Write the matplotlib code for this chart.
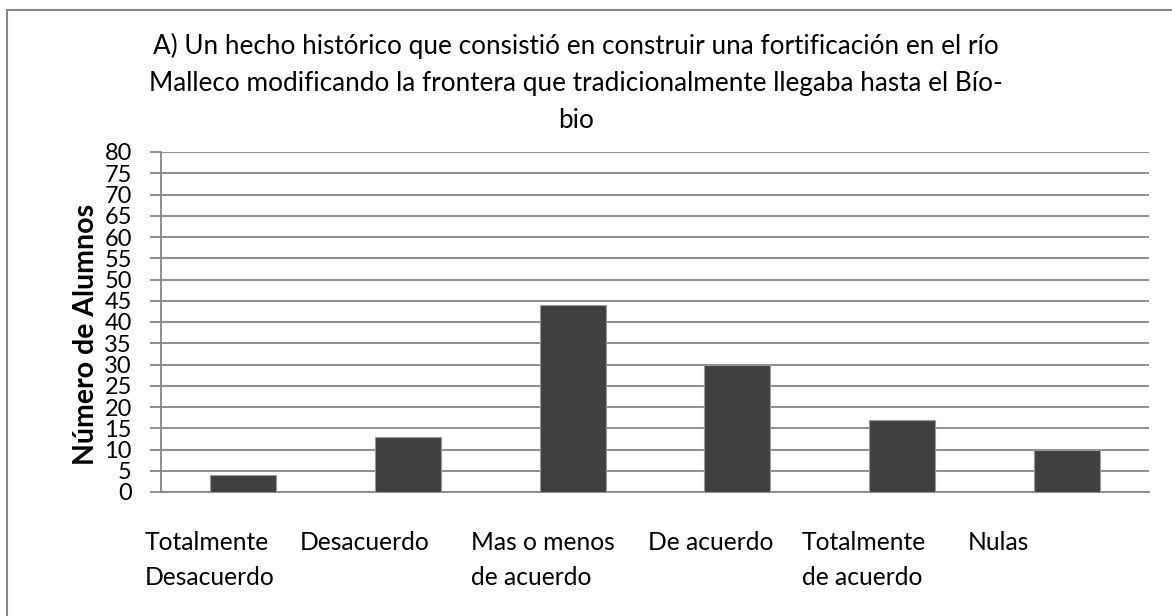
import matplotlib.pyplot as plt
import matplotlib.transforms as mtransforms
from matplotlib.patches import Rectangle

categorias = ['Totalmente\nDesacuerdo', 'Desacuerdo', 'Mas o menos\nde acuerdo',
              'De acuerdo', 'Totalmente\nde acuerdo', 'Nulas']
alumnos = [4, 13, 44, 30, 17, 10]
y_ticks = list(range(0, 85, 5))

titulo = ('A) Un hecho histórico que consistió en construir una fortificación en el río\n'
          'Malleco modificando la frontera que tradicionalmente llegaba hasta el Bío-\n'
          'bio')

# corrimiento de cada etiqueta respecto al centro de la categoría
desplaz = [-0.6, -0.66, -0.62, -0.54, -0.61, -0.6]

plt.rcParams['font.family'] = ['Lato', 'DejaVu Sans']

fig = plt.figure(figsize=(11.72, 6.16), dpi=100)
ax = fig.add_axes([161 / 1172, 1 - 492 / 616, (1149 - 161) / 1172, (492 - 152) / 616])

# borde del gráfico (solo visible arriba e izquierda)
fig.patches.append(Rectangle((7 / 1172, -0.1), 1.2, 1 - 10 / 616 + 0.1,
                             transform=fig.transFigure, fill=False,
                             edgecolor='#868686', linewidth=1.5))

x = list(range(len(alumnos)))
ax.bar(x, alumnos, width=0.4, color='#404040', edgecolor='#9a9a9a', linewidth=0.8, zorder=3)

ax.set_xlim(-0.5, len(alumnos) - 0.5)
ax.set_ylim(0, 80)
ax.set_yticks(y_ticks)
ax.tick_params(axis='y', length=8, width=1.3, color='#868686', labelsize=17, pad=13)
ax.set_xticks([])
ax.grid(axis='y', color='#868686', linewidth=1.3, zorder=0)
for s in ['top', 'right']:
    ax.spines[s].set_visible(False)
for s in ['left', 'bottom']:
    ax.spines[s].set_color('#868686')
    ax.spines[s].set_linewidth(1.3)

ax.set_ylabel('Número de Alumnos', fontsize=20.5, fontweight='bold')
ax.yaxis.set_label_coords((99 - 161) / 988, (492 - 334) / 340)

# etiquetas de categoría alineadas a la izquierda, como en Excel
trans = mtransforms.blended_transform_factory(ax.transData, fig.transFigure)
for i, cat in enumerate(categorias):
    ax.text(i + desplaz[i], 1 - 531 / 616, cat, transform=trans, ha='left', va='top',
            fontsize=17.7, linespacing=1.65)

# va='baseline' se ajusta a la última línea del título
fig.text(576 / 1172, 1 - 128 / 616, titulo, ha='center', va='baseline',
         fontsize=18.8, linespacing=1.6)

fig.savefig('out.png', dpi=100)
